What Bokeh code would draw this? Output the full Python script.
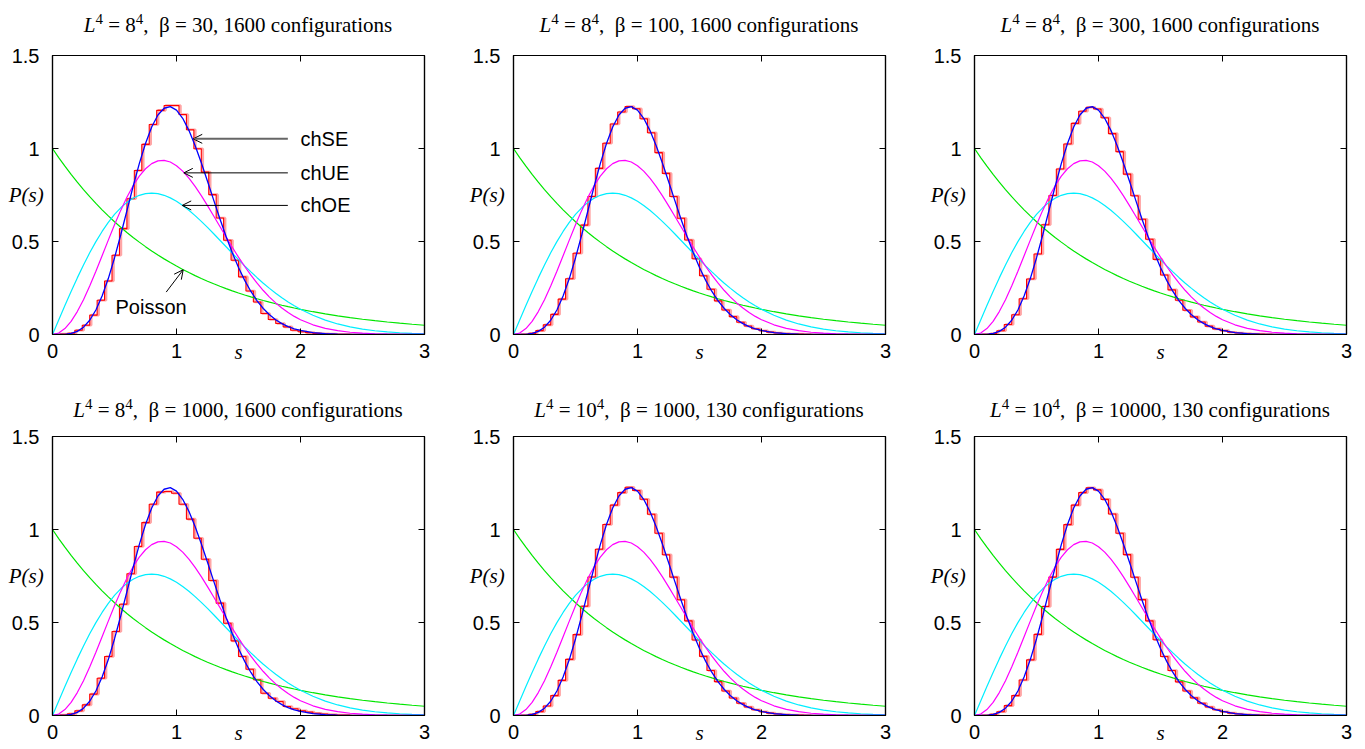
from bokeh.plotting import figure
from bokeh.layouts import row, column
from bokeh.models import (Label, Arrow, OpenHead, LinearAxis, FixedTicker, Range1d,
                          NumeralTickFormatter, Div)
from bokeh.embed import file_html
from bokeh.resources import INLINE

# ---------------- data ----------------
s_grid = [0.0, 0.05, 0.1, 0.15, 0.2, 0.25, 0.3, 0.35, 0.4, 0.45, 0.5, 0.55, 0.6, 0.65, 0.7,
          0.75, 0.8, 0.85, 0.9, 0.95, 1.0, 1.05, 1.1, 1.15, 1.2, 1.25, 1.3, 1.35, 1.4, 1.45,
          1.5, 1.55, 1.6, 1.65, 1.7, 1.75, 1.8, 1.85, 1.9, 1.95, 2.0,
          2.1, 2.2, 2.3, 2.4, 2.5, 2.6, 2.7, 2.8, 2.9, 3.0]

chSE = [0.0, 0.0001, 0.0011, 0.0056, 0.0170, 0.0393, 0.0766, 0.1319, 0.2067, 0.3007, 0.4116,
        0.5351, 0.6654, 0.7956, 0.9185, 1.0272, 1.1158, 1.1798, 1.2164, 1.2248, 1.2060,
        1.1623, 1.0977, 1.0164, 0.9237, 0.8241, 0.7226, 0.6225, 0.5273, 0.4395, 0.3604,
        0.2910, 0.2313, 0.1810, 0.1397, 0.1062, 0.0795, 0.0587, 0.0426, 0.0307, 0.0217,
        0.0104, 0.0047, 0.0020, 0.0008, 0.0003, 0.0001, 0.0, 0.0, 0.0, 0.0]

chUE = [0.0, 0.0081, 0.0320, 0.0709, 0.1233, 0.1871, 0.2602, 0.3398, 0.4232, 0.5073, 0.5896,
        0.6673, 0.7380, 0.7999, 0.8513, 0.8911, 0.9186, 0.9337, 0.9363, 0.9274, 0.9076,
        0.8782, 0.8405, 0.7961, 0.7464, 0.6929, 0.6371, 0.5804, 0.5240, 0.4688, 0.4158,
        0.3656, 0.3188, 0.2757, 0.2364, 0.2011, 0.1698, 0.1421, 0.1181, 0.0973, 0.0796,
        0.0521, 0.0330, 0.0204, 0.0122, 0.0071, 0.0040, 0.0022, 0.0012, 0.0006, 0.0003]

chOE = [0.0, 0.0784, 0.1559, 0.2315, 0.3044, 0.3739, 0.4391, 0.4994, 0.5541, 0.6029, 0.6454,
        0.6812, 0.7104, 0.7327, 0.7483, 0.7574, 0.7602, 0.7570, 0.7483, 0.7345, 0.7162,
        0.6938, 0.6680, 0.6393, 0.6083, 0.5756, 0.5416, 0.5068, 0.4718, 0.4369, 0.4025,
        0.3690, 0.3365, 0.3055, 0.2759, 0.2481, 0.2220, 0.1977, 0.1752, 0.1546, 0.1358,
        0.1033, 0.0772, 0.0567, 0.0409, 0.0290, 0.0202, 0.0138, 0.0093, 0.0062, 0.0040]

poisson = [1.0, 0.9512, 0.9048, 0.8607, 0.8187, 0.7788, 0.7408, 0.7047, 0.6703, 0.6376, 0.6065,
           0.5769, 0.5488, 0.5220, 0.4966, 0.4724, 0.4493, 0.4274, 0.4066, 0.3867, 0.3679,
           0.3499, 0.3329, 0.3166, 0.3012, 0.2865, 0.2725, 0.2592, 0.2466, 0.2346, 0.2231,
           0.2122, 0.2019, 0.1920, 0.1827, 0.1738, 0.1653, 0.1572, 0.1496, 0.1423, 0.1353,
           0.1225, 0.1108, 0.1003, 0.0907, 0.0821, 0.0743, 0.0672, 0.0608, 0.0550, 0.0498]

bin_edges = [0.0, 0.06, 0.12, 0.18, 0.24, 0.3, 0.36, 0.42, 0.48, 0.54, 0.6, 0.66, 0.72, 0.78,
             0.84, 0.9, 0.96, 1.02, 1.08, 1.14, 1.2, 1.26, 1.32, 1.38, 1.44, 1.5, 1.56, 1.62,
             1.68, 1.74, 1.8, 1.86, 1.92, 1.98, 2.04, 2.1, 2.16, 2.22, 2.28, 2.34, 2.4, 2.46,
             2.52, 2.58, 2.64, 2.7, 2.76, 2.82, 2.88, 2.94, 3.0]

hist_L8_b30 = [0.0, 0.002, 0.007, 0.023, 0.050, 0.104, 0.184, 0.288, 0.426, 0.569, 0.730, 0.882,
               1.022, 1.129, 1.205, 1.231, 1.231, 1.183, 1.101, 0.999, 0.873, 0.752, 0.626,
               0.507, 0.399, 0.310, 0.234, 0.175, 0.113, 0.081, 0.059, 0.041, 0.023, 0.015,
               0.010, 0.006, 0.004, 0.002, 0.001, 0.001, 0, 0, 0, 0, 0, 0, 0, 0, 0, 0]
hist_L8_b100 = [0.0, 0.001, 0.006, 0.021, 0.052, 0.108, 0.190, 0.300, 0.437, 0.588, 0.742, 0.893,
                1.028, 1.132, 1.196, 1.226, 1.214, 1.160, 1.085, 0.978, 0.866, 0.742, 0.625,
                0.508, 0.407, 0.316, 0.243, 0.181, 0.132, 0.096, 0.066, 0.046, 0.031, 0.020,
                0.013, 0.008, 0.005, 0.003, 0.002, 0.001, 0, 0, 0, 0, 0, 0, 0, 0, 0, 0]
hist_L8_b300 = [0.0, 0.001, 0.005, 0.020, 0.054, 0.106, 0.192, 0.298, 0.433, 0.590, 0.747, 0.890,
                1.024, 1.135, 1.200, 1.222, 1.212, 1.165, 1.080, 0.983, 0.862, 0.746, 0.620,
                0.512, 0.404, 0.320, 0.240, 0.184, 0.130, 0.095, 0.067, 0.045, 0.030, 0.021,
                0.012, 0.008, 0.005, 0.003, 0.002, 0.001, 0, 0, 0, 0, 0, 0, 0, 0, 0, 0]
hist_L8_b1000 = [0.0, 0.002, 0.009, 0.025, 0.057, 0.115, 0.200, 0.317, 0.452, 0.598, 0.762, 0.909,
                 1.037, 1.136, 1.201, 1.204, 1.195, 1.136, 1.056, 0.953, 0.840, 0.726, 0.604,
                 0.496, 0.401, 0.317, 0.249, 0.192, 0.120, 0.093, 0.075, 0.048, 0.036, 0.025,
                 0.018, 0.012, 0.008, 0.005, 0.003, 0.002, 0, 0, 0, 0, 0, 0, 0, 0, 0, 0]
hist_L10_b1000 = [0.0, 0.001, 0.006, 0.021, 0.051, 0.107, 0.189, 0.302, 0.435, 0.587, 0.745, 0.894,
                  1.027, 1.131, 1.198, 1.227, 1.210, 1.163, 1.082, 0.980, 0.864, 0.744, 0.622,
                  0.509, 0.406, 0.318, 0.242, 0.182, 0.132, 0.094, 0.066, 0.046, 0.031, 0.020,
                  0.013, 0.008, 0.005, 0.003, 0.002, 0.001, 0, 0, 0, 0, 0, 0, 0, 0, 0, 0]
hist_L10_b10000 = [0.0, 0.001, 0.006, 0.020, 0.053, 0.107, 0.191, 0.299, 0.436, 0.586, 0.744, 0.893,
                   1.026, 1.131, 1.198, 1.224, 1.213, 1.162, 1.083, 0.980, 0.865, 0.743, 0.623,
                   0.509, 0.407, 0.317, 0.242, 0.181, 0.132, 0.095, 0.066, 0.046, 0.031, 0.020,
                   0.013, 0.008, 0.005, 0.003, 0.002, 0.001, 0, 0, 0, 0, 0, 0, 0, 0, 0, 0]

lattice_L = [8, 8, 8, 8, 10, 10]
beta_values = [30, 100, 300, 1000, 1000, 10000]
n_configs = [1600, 1600, 1600, 1600, 130, 130]
histograms = [hist_L8_b30, hist_L8_b100, hist_L8_b300, hist_L8_b1000, hist_L10_b1000, hist_L10_b10000]

x_ticks = [0, 1, 2, 3]
y_ticks = [0, 0.5, 1, 1.5]
curve_names = ["chSE", "chUE", "chOE", "Poisson"]

# ---------------- styling / geometry ----------------
FRAME_W, FRAME_H = 372, 279
BORDER_LEFT = 52
SANS = "Liberation Sans"
SERIF = "Liberation Serif"
SHADOW_DX = 0.012
HAS_ORIENT = "axis_label_orientation" in LinearAxis.properties()


def title_div(L, beta, nconf, width, height, pad):
    sup = '<sup style="font-size:15px;line-height:0;vertical-align:8px">4</sup>'
    html = ('<div style="width:%dpx;margin-left:%dpx;padding-top:%dpx;text-align:center;'
            'font-family:\'Liberation Serif\',serif;font-size:21px;line-height:21px;'
            'white-space:nowrap;color:#000">'
            '<i>L</i>%s = %d%s,&nbsp; &beta; = %d, %d configurations</div>'
            % (FRAME_W, BORDER_LEFT, pad, sup, L, sup, beta, nconf))
    return Div(text=html, width=width, height=height, margin=0)


def mirror_axis(ticks):
    ax = LinearAxis(ticker=FixedTicker(ticks=ticks))
    ax.major_tick_in = 6
    ax.major_tick_out = 0
    ax.minor_tick_line_color = None
    ax.axis_line_color = "black"
    ax.axis_line_width = 1.2
    ax.major_tick_line_color = "black"
    ax.major_label_text_color = None
    ax.major_label_text_font_size = "1px"
    ax.major_label_standoff = 0
    return ax


def style_main_axis(ax, ticks):
    ax.ticker = FixedTicker(ticks=ticks)
    ax.major_tick_in = 6
    ax.major_tick_out = 0
    ax.minor_tick_line_color = None
    ax.axis_line_color = "black"
    ax.axis_line_width = 1.2
    ax.major_tick_line_color = "black"
    ax.major_label_text_font = SANS
    ax.major_label_text_font_size = "20px"
    ax.major_label_text_color = "black"
    ax.axis_label_text_font = SERIF
    ax.axis_label_text_font_style = "italic"
    ax.axis_label_text_font_size = "21px"
    ax.axis_label_text_color = "black"


def make_panel(idx):
    r, c = divmod(idx, 3)
    width = 461 if c < 2 else 441
    mbr = width - BORDER_LEFT - FRAME_W
    if r == 0:
        div_h, pad, mbt, mbb = 42, 15, 13, 54
    else:
        div_h, pad, mbt, mbb = 35, 12, 13, 34
    height = mbt + FRAME_H + mbb
    p = figure(width=width, height=height, x_range=Range1d(0, 3), y_range=Range1d(0, 1.5),
               output_backend="svg", toolbar_location=None,
               min_border_left=BORDER_LEFT, min_border_right=mbr,
               min_border_top=mbt, min_border_bottom=mbb,
               background_fill_color="white", border_fill_color="white",
               outline_line_color="black", outline_line_width=1.2)
    p.xgrid.visible = False
    p.ygrid.visible = False

    xa = p.xaxis[0]
    style_main_axis(xa, x_ticks)
    xa.major_label_standoff = 9
    xa.axis_label = "s"
    xa.axis_label_standoff = -21

    ya = p.yaxis[0]
    style_main_axis(ya, y_ticks)
    ya.formatter = NumeralTickFormatter(format="0.[0]")
    ya.major_label_standoff = 13
    ya.axis_label = "P(s)"
    if HAS_ORIENT:
        ya.axis_label_orientation = "horizontal"
        ya.axis_label_standoff = -35
    else:
        ya.axis_label_standoff = -20

    p.add_layout(mirror_axis(x_ticks), "above")
    p.add_layout(mirror_axis(y_ticks), "right")

    hist = histograms[idx]
    ys = list(hist) + [hist[-1]]
    p.step([e + SHADOW_DX for e in bin_edges], ys, mode="after",
           line_color="#ff0000", line_alpha=0.35, line_width=2.6)
    p.step(bin_edges, ys, mode="after", line_color="#ff0000", line_width=1.1)

    p.line(s_grid, poisson, line_color="#00e600", line_width=1.2)
    p.line(s_grid, chOE, line_color="#00eeff", line_width=1.2)
    p.line(s_grid, chUE, line_color="#ff00ff", line_width=1.2)
    p.line(s_grid, chSE, line_color="#0000ff", line_width=1.3)

    if idx == 0:
        ann = [("chSE", 1.052, 1.135, "#666666", 2.0),
               ("chUE", 0.869, 1.059, "black", 1.0),
               ("chOE", 0.694, 1.046, "black", 1.0)]
        for name, yv, xhead, col, lw in ann:
            p.add_layout(Arrow(end=OpenHead(size=9, line_width=1, line_color="black"),
                               x_start=1.898, y_start=yv, x_end=xhead, y_end=yv,
                               line_color=col, line_width=lw))
            p.add_layout(Label(x=2.0, y=yv, text=name, text_font=SANS, text_font_size="20px",
                               text_align="left", text_baseline="middle", text_color="black"))
        p.add_layout(Arrow(end=OpenHead(size=9, line_width=1, line_color="black"),
                           x_start=0.917, y_start=0.228, x_end=1.054, y_end=0.348,
                           line_color="black", line_width=1))
        p.add_layout(Label(x=0.508, y=0.147, text=curve_names[3], text_font=SANS,
                           text_font_size="20px", text_align="left", text_baseline="middle",
                           text_color="black"))

    d = title_div(lattice_L[idx], beta_values[idx], n_configs[idx], width, div_h, pad)
    return column(d, p, spacing=0)


panels = [make_panel(i) for i in range(6)]
layout = column(row(*panels[:3], spacing=0), row(*panels[3:], spacing=0), spacing=0)

open("out.html", "w", encoding="utf-8").write(file_html(layout, INLINE))
